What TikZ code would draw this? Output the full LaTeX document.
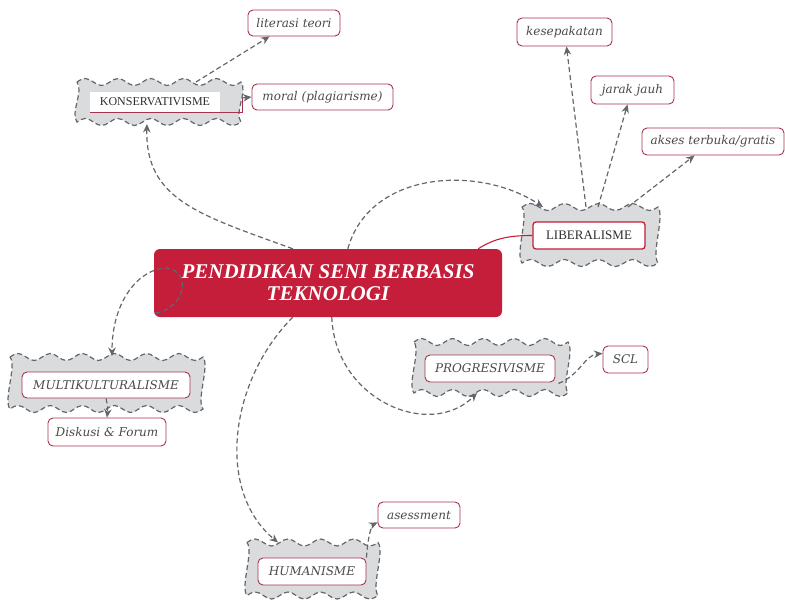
\documentclass[tikz,border=0pt]{standalone}
\usepackage{fontspec}
\setmainfont{Liberation Serif}
\newfontfamily\labfont{DejaVu Serif}
\usetikzlibrary{arrows.meta,calc}
\definecolor{crim}{HTML}{C41E3A}
\definecolor{bord}{HTML}{A8324E}
\definecolor{lgray}{HTML}{DADBDD}
\definecolor{dgray}{HTML}{63666A}
\definecolor{txt}{HTML}{4A4A4A}
\definecolor{dtxt}{HTML}{2E2E2E}
% #1 node name, #2 width, #3 number of waves
\newcommand\wavycloud[3]{%
  \pgfmathsetmacro\qq{#2/#3/4}%
  \path[wavy] (#1.north west)
    \foreach \i in {1,...,#3} { sin ++(\qq,-3.5) cos ++(\qq,3.5) sin ++(\qq,3.5) cos ++(\qq,-3.5) }
    .. controls +(7,9) and +(-7,-9) .. (#1.south east)
    \foreach \i in {1,...,#3} { sin ++(-\qq,3.5) cos ++(-\qq,-3.5) sin ++(-\qq,-3.5) cos ++(-\qq,3.5) }
    .. controls +(-7,-9) and +(7,9) .. (#1.north west) -- cycle;}
\begin{document}
\begin{tikzpicture}[x=1pt,y=-1pt,
  wavy/.style={fill=lgray, draw=dgray, line width=1.2pt, dash pattern=on 5pt off 3pt},
  area/.style={inner sep=0pt, outer sep=0pt},
  leaf/.style={draw=bord, fill=white, rounded corners=5pt, line width=0.9pt,
    font=\labfont\itshape\fontsize{12}{14}\selectfont, text=txt, inner sep=0pt},
  conn/.style={draw=dgray, line width=1.2pt, dash pattern=on 5pt off 3pt,
    -{Stealth[length=8.5pt,width=7.5pt]}},
  upbox/.style={fill=white, inner sep=0pt, text=dtxt},
]
\useasboundingbox (0,0) rectangle (785,600);

% cloud areas
\node[area, minimum width=164pt, minimum height=40pt] (kc) at (159,102) {};
\node[area, minimum width=136pt, minimum height=56pt] (lc) at (590,235) {};
\node[area, minimum width=193pt, minimum height=52pt] (mc) at (106.5,383) {};
\node[area, minimum width=154pt, minimum height=51pt] (pc) at (491,367.5) {};
\node[area, minimum width=131pt, minimum height=53pt] (hc) at (312.5,569) {};
\wavycloud{kc}{164}{5}
\wavycloud{lc}{136}{4}
\wavycloud{mc}{193}{6}
\wavycloud{pc}{154}{5}
\wavycloud{hc}{131}{4}

% central node
\node[fill=crim, rounded corners=6pt, minimum width=348pt, minimum height=68pt,
  text=white, font=\bfseries\itshape\fontsize{21}{22}\selectfont, align=center]
  (center) at (328,283) {PENDIDIKAN SENI BERBASIS\\TEKNOLOGI};

% inner boxes
\node[upbox, minimum width=130pt, minimum height=20pt, font=\fontsize{12}{14}\selectfont]
  (kt) at (155,102) {KONSERVATIVISME};
\node[upbox, draw=crim, line width=1.3pt, rounded corners=3pt, minimum width=112pt,
  minimum height=27pt, font=\fontsize{13}{15}\selectfont] (lt) at (589,235.5) {LIBERALISME};
\node[leaf, minimum width=168pt, minimum height=26pt] (mt) at (106,385) {MULTIKULTURALISME};
\node[leaf, minimum width=130pt, minimum height=27pt] (pt) at (490,368.5) {PROGRESIVISME};
\node[leaf, minimum width=108pt, minimum height=27pt] (ht) at (312,571.5) {HUMANISME};

% leaves
\node[leaf, minimum width=92pt, minimum height=26pt] (lit) at (294,23) {literasi teori};
\node[leaf, minimum width=141pt, minimum height=26pt] (mor) at (322.5,97) {moral (plagiarisme)};
\node[leaf, minimum width=95pt, minimum height=28pt] (kes) at (564.5,32) {kesepakatan};
\node[leaf, minimum width=83pt, minimum height=28pt] (jar) at (632.5,90) {jarak jauh};
\node[leaf, minimum width=142pt, minimum height=27pt] (aks) at (713,141.5) {akses terbuka/gratis};
\node[leaf, minimum width=118pt, minimum height=28pt] (dis) at (107,432) {Diskusi \& Forum};
\node[leaf, minimum width=45pt, minimum height=27pt] (scl) at (625.5,359.5) {SCL};
\node[leaf, minimum width=82pt, minimum height=26pt] (ase) at (419,515) {asessment};

% konservativisme
\coordinate (kbend) at (242,98);
\draw[bord, line width=0.9pt] (kt.south west) -- (kt.south west -| kbend) -- (kbend);
\draw[conn] (kbend) -- (mor.west);
\draw[conn] ($(kc.north west)+(119,0)$) -- ($(lit.south west)+(22,0)$);
\draw[conn] ($(center.north west)+(139,0)$) .. controls (200,215) and (145,200) .. ($(kc.south west)+(70,2)$);

% liberalisme
\draw[conn] ($(center.north west)+(194,0)$) .. controls (370,170) and (480,165) .. ($(lc.north west)+(21,0)$);
\draw[crim, line width=1.1pt] ($(center.north east)+(-24,0)$) .. controls (495,238) and (510,235.5) .. (lt.west);
\draw[conn] ($(lc.north west)+(64,0)$) -- ($(kes.south)+(2,0)$);
\draw[conn] ($(lc.north west)+(76,0)$) -- ($(jar.south west)+(37,0)$);
\draw[conn] ($(lc.north west)+(106,0)$) -- ($(aks.south west)+(53,0)$);

% multikulturalisme
\draw[conn] ($(center.south west)+(2,-4)$) .. controls (185,308) and (192,272) .. (167,268)
  .. controls (140,268) and (112,300) .. ($(mc.north)+(5.5,-1)$);
\draw[conn] (mt.south) .. controls (108,408) .. (dis.north);

% progresivisme
\draw[conn] ($(center.south west)+(178,0)$) .. controls (335,400) and (430,440) .. ($(pc.south west)+(63,0)$);
\draw[conn] ($(pt.south east)+(3,1)$) .. controls (580,375) and (585,355) .. ($(scl.west)+(0,-6)$);

% humanisme
\draw[conn] ($(center.south west)+(139,0)$) .. controls (230,380) and (215,490) .. ($(hc.north west)+(31,0)$);
\draw[conn] (ht.north east) .. controls (368,535) and (372,525) .. ($(ase.south west)+(0,-6)$);
\end{tikzpicture}
\end{document}
